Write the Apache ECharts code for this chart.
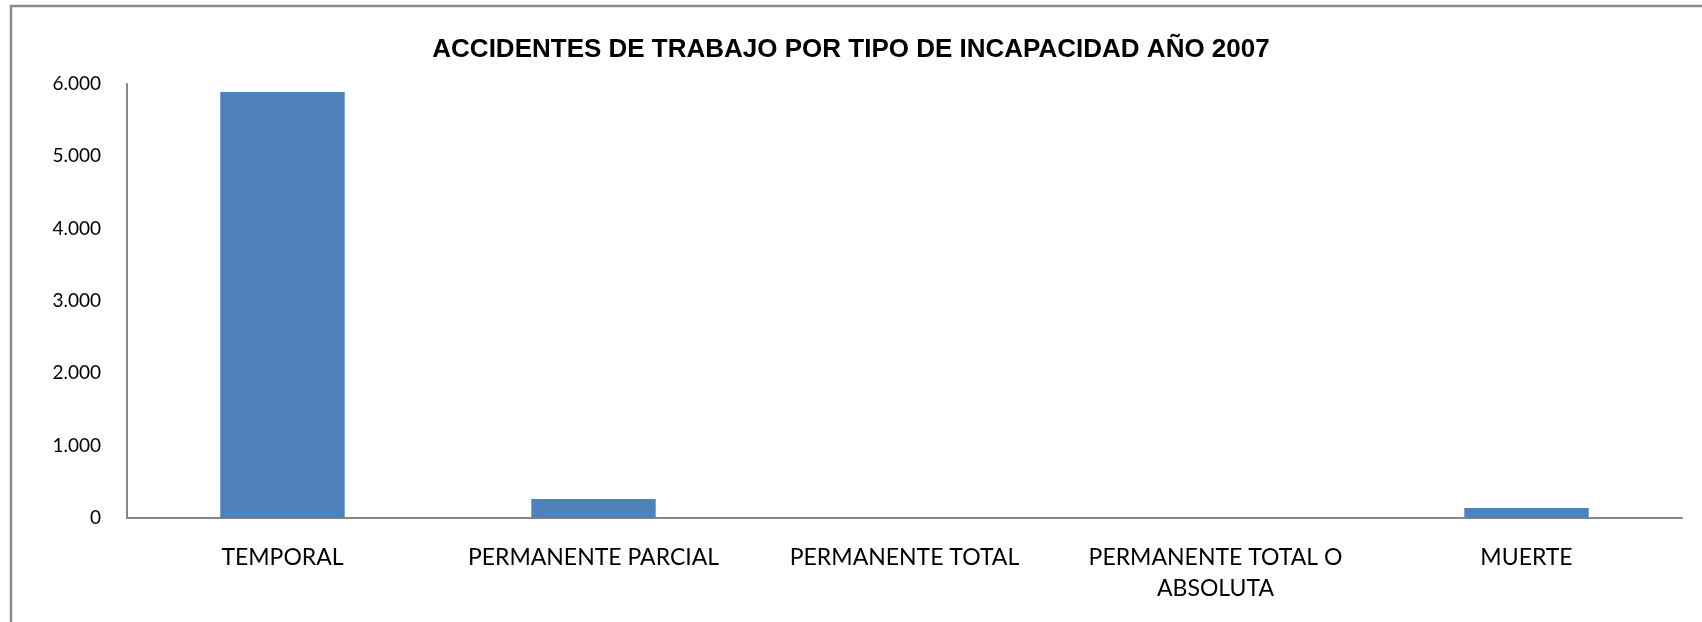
<!DOCTYPE html>
<html>
<head>
<meta charset="utf-8">
<script src="https://cdn.jsdelivr.net/npm/echarts@6/dist/echarts.min.js"></script>
<style>
html,body{margin:0;padding:0;background:#fff;}
#c{width:1702px;height:622px;}
</style>
</head>
<body>
<div id="c"></div>
<script>
const titleText = 'ACCIDENTES DE TRABAJO POR TIPO DE INCAPACIDAD AÑO 2007';
const categories = ['TEMPORAL', 'PERMANENTE PARCIAL', 'PERMANENTE TOTAL', 'PERMANENTE TOTAL O\nABSOLUTA', 'MUERTE'];
const values = [5890, 263, 0, 0, 138];
const yTicks = [0, 1000, 2000, 3000, 4000, 5000, 6000];

const chart = echarts.init(document.getElementById('c'));
chart.setOption({
  animation: false,
  backgroundColor: '#ffffff',
  title: {
    text: titleText,
    left: 'center',
    top: 32,
    textStyle: { fontFamily: 'Liberation Sans', fontWeight: 'bold', fontSize: 26, color: '#000' }
  },
  graphic: [{
    type: 'rect',
    shape: { x: 11, y: 6, width: 1800, height: 800 },
    style: { fill: 'none', stroke: '#8c8c8c', lineWidth: 2.5 },
    silent: true
  }],
  grid: { left: 127, right: 20, top: 84, bottom: 104 },
  xAxis: {
    type: 'category',
    data: categories,
    axisLine: { lineStyle: { color: '#868686', width: 2 } },
    axisTick: { show: false },
    axisLabel: {
      margin: 24,
      fontFamily: 'Lato',
      fontSize: 23,
      color: '#000',
      lineHeight: 31,
      interval: 0
    }
  },
  yAxis: {
    type: 'value',
    min: yTicks[0],
    max: yTicks[yTicks.length - 1],
    interval: 1000,
    axisLine: { show: true, lineStyle: { color: '#868686', width: 2 } },
    axisTick: { show: false },
    splitLine: { show: false },
    axisLabel: {
      margin: 26,
      fontFamily: 'Lato',
      fontSize: 19,
      color: '#000',
      formatter: function (v) { return String(v).replace(/^(\d+)(\d{3})$/, '$1.$2'); }
    }
  },
  series: [{
    type: 'bar',
    data: values,
    barWidth: '40%',
    itemStyle: { color: '#4f81bd' }
  }]
});
</script>
</body>
</html>
